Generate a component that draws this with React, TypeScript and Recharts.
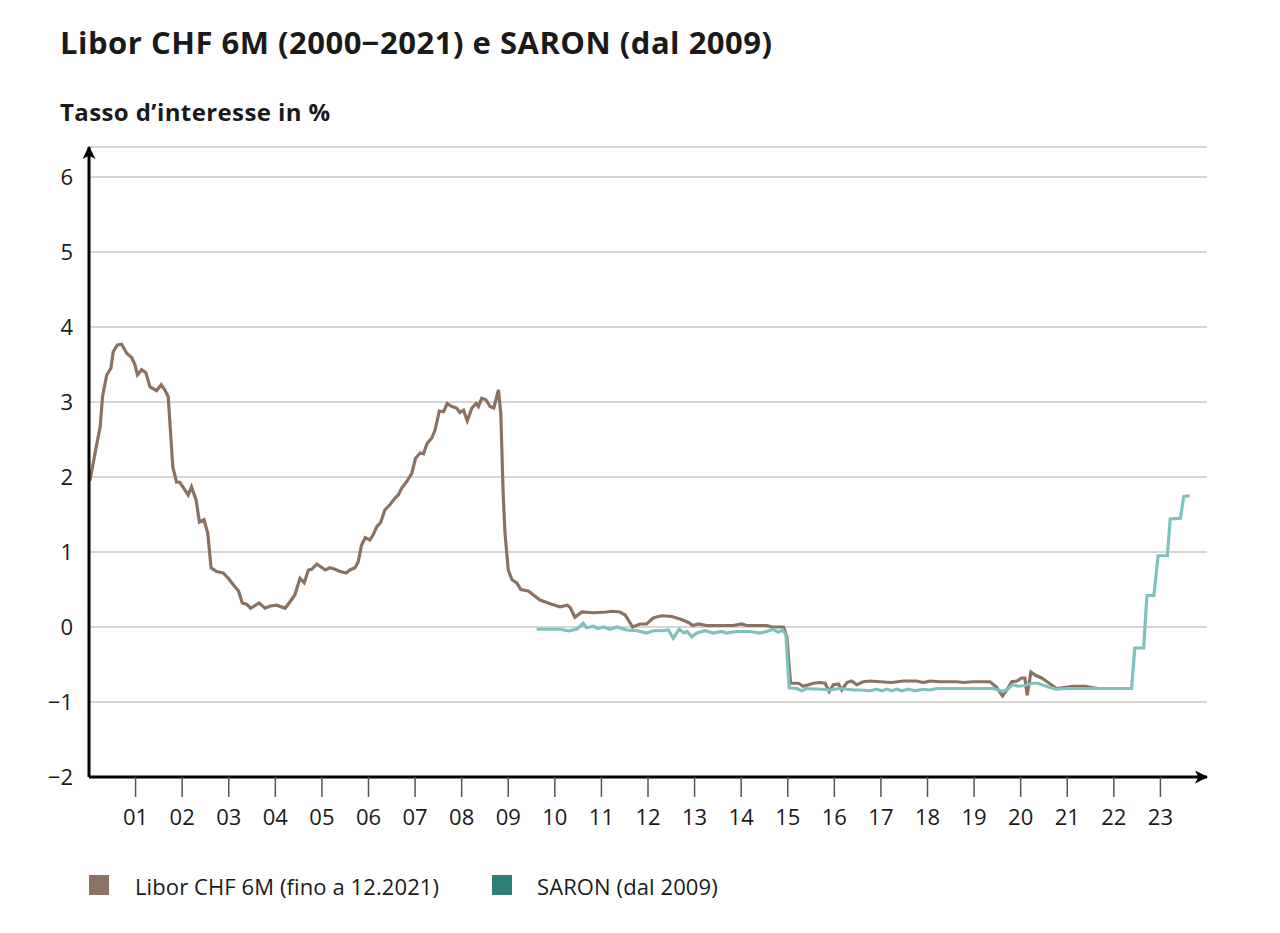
import React from "react";
import { LineChart, Line, XAxis, YAxis, CartesianGrid } from "recharts";

// Libor CHF 6M (year as decimal, rate in %)
const liborYears = [
  2000.02, 2000.17, 2000.24, 2000.29, 2000.38, 2000.47, 2000.52, 2000.61, 2000.7, 2000.81, 2000.92, 2000.99,
  2001.04, 2001.13, 2001.22, 2001.31, 2001.45, 2001.55, 2001.63, 2001.7, 2001.8, 2001.88, 2001.95,
  2002.13, 2002.2, 2002.3, 2002.37, 2002.47, 2002.55, 2002.62, 2002.74, 2002.88, 2002.99,
  2003.1, 2003.21, 2003.29, 2003.39, 2003.47, 2003.65, 2003.78, 2003.89,
  2004.03, 2004.21, 2004.32, 2004.42, 2004.53, 2004.62, 2004.71, 2004.78, 2004.89, 2004.96,
  2005.07, 2005.17, 2005.28, 2005.39, 2005.52, 2005.6, 2005.71, 2005.78, 2005.85, 2005.93,
  2006.03, 2006.1, 2006.18, 2006.26, 2006.35, 2006.46, 2006.57, 2006.64, 2006.71, 2006.82, 2006.93,
  2007.01, 2007.11, 2007.18, 2007.26, 2007.36, 2007.43, 2007.52, 2007.61, 2007.69, 2007.79, 2007.89, 2007.96,
  2008.04, 2008.12, 2008.22, 2008.31, 2008.36, 2008.43, 2008.52, 2008.61, 2008.69, 2008.79, 2008.84, 2008.89, 2008.93,
  2009.0, 2009.08, 2009.18, 2009.27, 2009.43, 2009.68, 2009.9,
  2010.11, 2010.27, 2010.33, 2010.43, 2010.58, 2010.83,
  2011.11, 2011.22, 2011.4, 2011.51, 2011.67, 2011.83, 2011.97,
  2012.11, 2012.29, 2012.51, 2012.72, 2012.87, 2012.96,
  2013.08, 2013.26, 2013.55, 2013.83,
  2014.01, 2014.12, 2014.55, 2014.66, 2014.91, 2014.98,
  2015.06, 2015.23, 2015.33, 2015.44, 2015.55, 2015.69, 2015.8, 2015.89, 2015.98,
  2016.09, 2016.16, 2016.27, 2016.37, 2016.48, 2016.62, 2016.77, 2016.98,
  2017.23, 2017.48, 2017.77, 2017.91,
  2018.05, 2018.27, 2018.63, 2018.77, 2018.98,
  2019.34, 2019.48, 2019.61, 2019.7, 2019.81, 2019.92,
  2020.02, 2020.09, 2020.14, 2020.22, 2020.31, 2020.45, 2020.59, 2020.77,
  2021.13, 2021.38, 2021.56, 2021.67,
];
const liborRates = [
  1.95, 2.45, 2.67, 3.07, 3.36, 3.45, 3.67, 3.76, 3.77, 3.65, 3.59, 3.49,
  3.36, 3.43, 3.39, 3.2, 3.15, 3.23, 3.16, 3.07, 2.13, 1.93, 1.93,
  1.76, 1.87, 1.69, 1.4, 1.43, 1.25, 0.79, 0.74, 0.72, 0.65,
  0.56, 0.48, 0.32, 0.3, 0.25, 0.32, 0.25, 0.28,
  0.29, 0.25, 0.34, 0.43, 0.65, 0.59, 0.76, 0.77, 0.84, 0.81,
  0.76, 0.79, 0.77, 0.74, 0.72, 0.76, 0.79, 0.87, 1.09, 1.19,
  1.16, 1.23, 1.34, 1.39, 1.56, 1.63, 1.72, 1.76, 1.85, 1.94, 2.05,
  2.25, 2.32, 2.31, 2.45, 2.52, 2.63, 2.88, 2.87, 2.98, 2.94, 2.92, 2.86,
  2.89, 2.75, 2.92, 2.98, 2.94, 3.05, 3.03, 2.94, 2.92, 3.16, 2.85, 1.79, 1.25,
  0.76, 0.63, 0.59, 0.5, 0.48, 0.36, 0.31,
  0.27, 0.29, 0.26, 0.13, 0.2, 0.19,
  0.2, 0.21, 0.2, 0.16, 0.0, 0.04, 0.04,
  0.12, 0.15, 0.14, 0.1, 0.06, 0.02,
  0.04, 0.02, 0.02, 0.02,
  0.04, 0.02, 0.02, 0.0, 0.0, -0.13,
  -0.75, -0.75, -0.79, -0.77, -0.75, -0.74, -0.75, -0.86, -0.77,
  -0.76, -0.84, -0.74, -0.72, -0.77, -0.73, -0.72, -0.73,
  -0.74, -0.72, -0.72, -0.74,
  -0.72, -0.73, -0.73, -0.74, -0.73,
  -0.73, -0.8, -0.92, -0.84, -0.73, -0.72,
  -0.68, -0.68, -0.91, -0.6, -0.64, -0.68, -0.74, -0.82,
  -0.79, -0.79, -0.81, -0.82,
];

// SARON
const saronYears = [
  2009.61, 2010.11, 2010.29, 2010.47, 2010.61, 2010.68, 2010.83, 2010.93,
  2011.04, 2011.18, 2011.33, 2011.54, 2011.76, 2011.97,
  2012.11, 2012.29, 2012.44, 2012.54, 2012.67, 2012.77, 2012.84, 2012.94,
  2013.05, 2013.23, 2013.4, 2013.58, 2013.69, 2013.9,
  2014.19, 2014.4, 2014.55, 2014.69, 2014.73, 2014.8, 2014.89, 2014.96,
  2015.03, 2015.19, 2015.3, 2015.41, 2015.69, 2015.91,
  2016.12, 2016.41, 2016.55, 2016.77, 2016.91,
  2017.02, 2017.13, 2017.23, 2017.34, 2017.45, 2017.59, 2017.73, 2017.91,
  2018.05, 2018.2, 2018.7,
  2019.41, 2019.52, 2019.63, 2019.74, 2019.83, 2019.95,
  2020.09, 2020.24, 2020.38, 2020.59, 2020.77, 2020.99,
  2021.56, 2022.38, 2022.45, 2022.64, 2022.71, 2022.86, 2022.95,
  2023.15, 2023.21, 2023.43, 2023.5, 2023.63,
];
const saronRates = [
  -0.03, -0.03, -0.05, -0.03, 0.05, -0.01, 0.01, -0.02,
  0.0, -0.03, 0.0, -0.04, -0.05, -0.08,
  -0.05, -0.05, -0.04, -0.15, -0.03, -0.08, -0.06, -0.13,
  -0.08, -0.05, -0.08, -0.06, -0.08, -0.06,
  -0.06, -0.08, -0.06, -0.03, -0.05, -0.07, -0.04, -0.1,
  -0.81, -0.82, -0.85, -0.82, -0.83, -0.84,
  -0.82, -0.84, -0.84, -0.85, -0.83,
  -0.85, -0.83, -0.85, -0.83, -0.85, -0.83, -0.85, -0.83,
  -0.84, -0.82, -0.82,
  -0.82, -0.84, -0.86, -0.82, -0.77, -0.79,
  -0.78, -0.75, -0.75, -0.8, -0.83, -0.82,
  -0.82, -0.82, -0.28, -0.28, 0.42, 0.42, 0.95,
  0.95, 1.44, 1.45, 1.74, 1.75,
];

const yearTicks = [
  2001, 2002, 2003, 2004, 2005, 2006, 2007, 2008, 2009, 2010, 2011, 2012,
  2013, 2014, 2015, 2016, 2017, 2018, 2019, 2020, 2021, 2022, 2023,
];
const rateTicks = [-2, -1, 0, 1, 2, 3, 4, 5, 6];

const legendLabels = ["Libor CHF 6M (fino a 12.2021)", "SARON (dal 2009)"];

const liborData = liborYears.map((t, i) => ({ t, v: liborRates[i] }));
const saronData = saronYears.map((t, i) => ({ t, v: saronRates[i] }));

const FONT = "'Open Sans', 'Noto Sans', sans-serif";
const TEXT = "#1a1a1a";
const LIBOR_LINE = "#8a7263";
const SARON_LINE = "#7fc1bc";
const LIBOR_KEY = "#8b7264";
const SARON_KEY = "#2c8174";

const fmtRate = (v: number) => (v < 0 ? "\u2212" + Math.abs(v) : String(v));
const fmtYear = (v: number) => String(v).slice(2);

export default function App() {
  const legendItems = [
    { label: legendLabels[0], color: LIBOR_KEY, boxLeft: 89, textLeft: 135 },
    { label: legendLabels[1], color: SARON_KEY, boxLeft: 492, textLeft: 537 },
  ];

  return (
    <div
      style={{
        position: "absolute",
        left: 0,
        top: 0,
        width: 1280,
        height: 933,
        background: "#fff",
        fontFamily: FONT,
        color: TEXT,
      }}
    >
      <svg width={0} height={0} style={{ position: "absolute" }}>
        <defs>
          <marker
            id="axisArrow"
            viewBox="0 0 12 12"
            refX={11}
            refY={6}
            markerWidth={13}
            markerHeight={13}
            markerUnits="userSpaceOnUse"
            orient="auto-start-reverse"
          >
            <path d="M0,0 L12,6 L0,12 L3,6 Z" fill="#000" />
          </marker>
        </defs>
      </svg>

      <LineChart
        width={1280}
        height={933}
        margin={{ top: 147, right: 73, bottom: 116, left: 29 }}
      >
        <CartesianGrid vertical={false} stroke="#adadad" strokeWidth={1.2} />
        <XAxis
          type="number"
          dataKey="t"
          domain={[2000, 2024]}
          ticks={yearTicks}
          tickFormatter={fmtYear}
          height={40}
          tickSize={20}
          tickMargin={12}
          interval={0}
          axisLine={{ stroke: "#000", strokeWidth: 3, markerEnd: "url(#axisArrow)" }}
          tickLine={{ stroke: "#555", strokeWidth: 1.5 }}
          tick={{ fill: TEXT, fontSize: 22, fontFamily: FONT }}
        />
        <YAxis
          type="number"
          domain={[-2, 6.4]}
          ticks={rateTicks}
          tickFormatter={fmtRate}
          width={60}
          tickSize={0}
          tickMargin={16}
          interval={0}
          axisLine={{ stroke: "#000", strokeWidth: 3, markerStart: "url(#axisArrow)" }}
          tickLine={false}
          tick={{ fill: TEXT, fontSize: 22, fontFamily: FONT }}
        />
        <Line
          data={liborData}
          dataKey="v"
          type="linear"
          stroke={LIBOR_LINE}
          strokeWidth={3.2}
          dot={false}
          activeDot={false}
          isAnimationActive={false}
        />
        <Line
          data={saronData}
          dataKey="v"
          type="linear"
          stroke={SARON_LINE}
          strokeWidth={3.2}
          dot={false}
          activeDot={false}
          isAnimationActive={false}
        />
      </LineChart>

      <div
        style={{
          position: "absolute",
          left: 60,
          top: 27,
          fontSize: 31,
          fontWeight: 700,
          letterSpacing: 0.5,
          lineHeight: 1,
          whiteSpace: "nowrap",
        }}
      >
        Libor CHF 6M (2000−2021) e SARON (dal 2009)
      </div>
      <div
        style={{
          position: "absolute",
          left: 60,
          top: 100,
          fontSize: 24,
          fontWeight: 700,
          letterSpacing: 0.4,
          lineHeight: 1,
          whiteSpace: "nowrap",
        }}
      >
        Tasso d’interesse in %
      </div>

      {legendItems.map((item) => (
        <React.Fragment key={item.label}>
          <div
            style={{
              position: "absolute",
              left: item.boxLeft,
              top: 875,
              width: 20,
              height: 20,
              background: item.color,
            }}
          />
          <div
            style={{
              position: "absolute",
              left: item.textLeft,
              top: 875,
              fontSize: 22,
              letterSpacing: 0.1,
              lineHeight: 1,
              whiteSpace: "nowrap",
            }}
          >
            {item.label}
          </div>
        </React.Fragment>
      ))}
    </div>
  );
}
